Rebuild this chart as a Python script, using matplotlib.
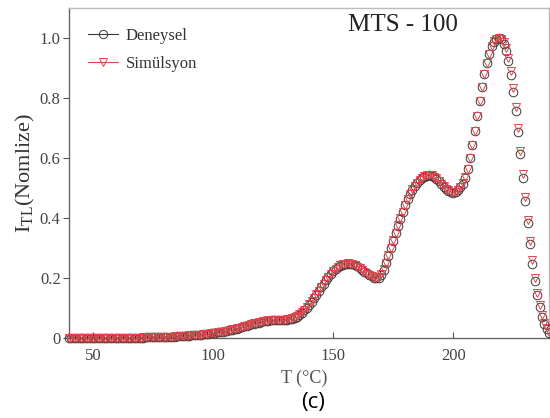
import numpy as np
import matplotlib
matplotlib.use("Agg")
import matplotlib.pyplot as plt
from matplotlib.lines import Line2D

plt.rcParams['font.family'] = 'Liberation Serif'
plt.rcParams['mathtext.fontset'] = 'custom'
plt.rcParams['mathtext.rm'] = 'Liberation Serif'

# temperature grid (1 C steps)
temp = np.arange(40, 241, 1)

deneysel = [
    0.000, 0.000, 0.000, 0.000, 0.000, 0.000, 0.000, 0.000, 0.001, 0.001,
    0.001, 0.001, 0.001, 0.001, 0.001, 0.001, 0.001, 0.001, 0.001, 0.001,
    0.001, 0.001, 0.001, 0.001, 0.002, 0.002, 0.002, 0.002, 0.002, 0.002,
    0.002, 0.002, 0.003, 0.003, 0.003, 0.003, 0.003, 0.003, 0.004, 0.004,
    0.004, 0.004, 0.005, 0.005, 0.005, 0.006, 0.006, 0.007, 0.007, 0.008,
    0.008, 0.009, 0.010, 0.010, 0.011, 0.012, 0.013, 0.014, 0.015, 0.016,
    0.017, 0.018, 0.019, 0.020, 0.021, 0.023, 0.024, 0.026, 0.028, 0.030,
    0.032, 0.034, 0.036, 0.039, 0.041, 0.043, 0.046, 0.048, 0.050, 0.052,
    0.054, 0.056, 0.057, 0.058, 0.059, 0.060, 0.060, 0.060, 0.060, 0.060,
    0.061, 0.062, 0.063, 0.065, 0.068, 0.072, 0.078, 0.085, 0.093, 0.102,
    0.112, 0.122, 0.133, 0.145, 0.157, 0.169, 0.181, 0.193, 0.204, 0.214,
    0.223, 0.231, 0.237, 0.242, 0.245, 0.247, 0.248, 0.248, 0.246, 0.243,
    0.239, 0.234, 0.228, 0.222, 0.216, 0.211, 0.206, 0.202, 0.200, 0.202,
    0.212, 0.228, 0.250, 0.275, 0.300, 0.325, 0.350, 0.375, 0.398, 0.420,
    0.442, 0.462, 0.480, 0.495, 0.507, 0.517, 0.526, 0.533, 0.538, 0.541,
    0.542, 0.541, 0.537, 0.531, 0.523, 0.514, 0.505, 0.497, 0.491, 0.487,
    0.485, 0.487, 0.492, 0.502, 0.515, 0.535, 0.563, 0.600, 0.643, 0.690,
    0.740, 0.790, 0.838, 0.880, 0.917, 0.948, 0.972, 0.988, 0.997, 1.000,
    0.995, 0.981, 0.957, 0.922, 0.877, 0.821, 0.757, 0.687, 0.612, 0.535,
    0.457, 0.382, 0.312, 0.248, 0.192, 0.143, 0.103, 0.071, 0.046, 0.029,
    0.016,
]

# Simulasyon (fit)
simulasyon = [
    0.000, 0.000, 0.000, 0.000, 0.000, 0.000, 0.000, 0.000, 0.000, 0.001,
    0.001, 0.001, 0.001, 0.001, 0.001, 0.001, 0.001, 0.001, 0.001, 0.001,
    0.001, 0.001, 0.001, 0.002, 0.002, 0.002, 0.002, 0.002, 0.002, 0.002,
    0.002, 0.003, 0.003, 0.003, 0.003, 0.003, 0.003, 0.004, 0.004, 0.004,
    0.004, 0.005, 0.005, 0.005, 0.006, 0.006, 0.007, 0.007, 0.008, 0.008,
    0.009, 0.009, 0.010, 0.011, 0.012, 0.012, 0.013, 0.014, 0.015, 0.016,
    0.017, 0.018, 0.019, 0.021, 0.022, 0.023, 0.025, 0.027, 0.029, 0.031,
    0.033, 0.035, 0.037, 0.039, 0.042, 0.044, 0.046, 0.049, 0.051, 0.053,
    0.055, 0.056, 0.058, 0.059, 0.059, 0.060, 0.060, 0.060, 0.060, 0.061,
    0.062, 0.063, 0.064, 0.066, 0.069, 0.073, 0.079, 0.086, 0.094, 0.103,
    0.113, 0.123, 0.134, 0.146, 0.158, 0.170, 0.182, 0.194, 0.205, 0.215,
    0.224, 0.232, 0.238, 0.243, 0.246, 0.248, 0.249, 0.248, 0.246, 0.243,
    0.238, 0.233, 0.227, 0.221, 0.215, 0.210, 0.206, 0.202, 0.201, 0.203,
    0.213, 0.229, 0.251, 0.276, 0.301, 0.326, 0.351, 0.376, 0.399, 0.421,
    0.443, 0.463, 0.481, 0.496, 0.508, 0.518, 0.527, 0.534, 0.539, 0.542,
    0.543, 0.542, 0.538, 0.532, 0.524, 0.515, 0.506, 0.498, 0.492, 0.488,
    0.486, 0.488, 0.493, 0.503, 0.516, 0.536, 0.563, 0.599, 0.642, 0.689,
    0.739, 0.789, 0.837, 0.879, 0.916, 0.947, 0.972, 0.989, 0.998, 1.000,
    0.997, 0.986, 0.965, 0.932, 0.889, 0.834, 0.771, 0.700, 0.625, 0.548,
    0.470, 0.395, 0.324, 0.259, 0.201, 0.151, 0.110, 0.077, 0.051, 0.033,
    0.019,
]

xticks = [50, 100, 150, 200]
yticks = [0, 0.2, 0.4, 0.6, 0.8, 1.0]
ytick_labels = ['0', '0.2', '0.4', '0.6', '0.8', '1.0']

gray = '#3a3a3a'
red = '#e0454a'

fig = plt.figure(figsize=(5.5, 4.18), dpi=100)
ax = fig.add_axes([0.1255, 0.191, 0.873, 0.79])

ax.plot(temp, deneysel, linestyle='none', marker='o', markersize=6.2,
        markerfacecolor='none', markeredgecolor=gray, markeredgewidth=0.7,
        clip_on=False, zorder=3)
ax.plot(temp, simulasyon, linestyle='none', marker='v', markersize=6.2,
        markerfacecolor='none', markeredgecolor=red, markeredgewidth=0.7,
        clip_on=False, zorder=4)

ax.set_xlim(40, 240)
ax.set_ylim(0, 1.1)
ax.set_xticks(xticks)
ax.set_yticks(yticks)
ax.set_yticklabels(ytick_labels)

ax.tick_params(axis='x', direction='in', length=4, width=0.8, colors='#555555',
               labelsize=12, pad=7, labelcolor='#444444')
ax.tick_params(axis='y', direction='out', length=4, width=0.8, colors='#555555',
               labelsize=12, pad=2, labelcolor='#444444')

for side in ['left', 'bottom']:
    ax.spines[side].set_color('#666666')
    ax.spines[side].set_linewidth(1.0)
for side in ['top', 'right']:
    ax.spines[side].set_color('#bbbbbb')
    ax.spines[side].set_linewidth(1.0)

ax.set_xlabel('T (°C)', fontsize=13, color='#555555')
ax.xaxis.set_label_coords(0.49, -0.095)
ax.set_ylabel(r'$\mathregular{I_{TL}}$(Nomlize)', fontsize=16, color='#333333',
              labelpad=2)

ax.text(0.696, 0.948, 'MTS - 100', transform=ax.transAxes, fontsize=18,
        color='#222222', ha='center', va='center')

handles = [
    Line2D([], [], color=gray, linewidth=0.8, marker='o', markersize=6,
           markerfacecolor='none', markeredgecolor=gray, markeredgewidth=0.7),
    Line2D([], [], color=red, linewidth=0.8, marker='v', markersize=6,
           markerfacecolor='none', markeredgecolor=red, markeredgewidth=0.7),
]
ax.legend(handles, ['Deneysel', 'Simülsyon'], loc='upper left',
          bbox_to_anchor=(0.04, 0.94), frameon=False, fontsize=12,
          handlelength=1.8, handletextpad=0.45, borderpad=0, borderaxespad=0,
          labelcolor='#333333', labelspacing=0.75)

fig.text(0.57, 0.038, '(c)', fontsize=16, family='Open Sans', ha='center',
         va='center', color='black')

fig.savefig('out.png', dpi=100)
